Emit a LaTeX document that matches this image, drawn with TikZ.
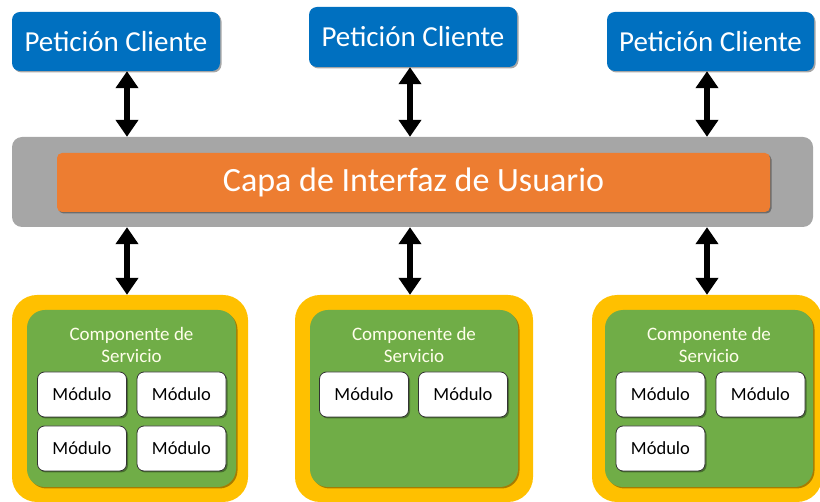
\documentclass[tikz,border=0pt]{standalone}
\usepackage{fontspec}
\setmainfont{Carlito}
\usetikzlibrary{arrows.meta,shadows}
\definecolor{cblue}{HTML}{0070C0}
\definecolor{cgray}{HTML}{A6A6A6}
\definecolor{corange}{HTML}{ED7D31}
\definecolor{cyellow}{HTML}{FFC000}
\definecolor{cgreen}{HTML}{70AD47}
\tikzset{
  shad/.style={drop shadow={shadow xshift=1.5pt,shadow yshift=-1.5pt,opacity=0.35,fill=black}},
  reqbox/.style={shad,fill=cblue,rounded corners=8pt,inner sep=0,text=white,font=\fontsize{29}{32}\selectfont},
  layerbox/.style={fill=cgray,rounded corners=10pt,inner sep=0},
  uibox/.style={shad,fill=corange,rounded corners=5pt,inner sep=0,text=white,font=\fontsize{34}{38}\selectfont},
  outerbox/.style={fill=cyellow,rounded corners=25pt,inner sep=0},
  innerbox/.style={shad,fill=cgreen,rounded corners=18pt,inner sep=0},
  comptext/.style={text=white!92!yellow,align=center,font=\fontsize{19}{22}\selectfont},
  modbox/.style={shad,fill=white,draw=black!80,line width=0.8pt,rounded corners=7pt,inner sep=0,minimum width=89pt,minimum height=45pt,font=\fontsize{18.5}{21}\selectfont},
  dblarrow/.style={line width=6.5pt,{Triangle[width=22pt,length=17pt]}-{Triangle[width=22pt,length=17pt]}},
}
\begin{document}
\begin{tikzpicture}[x=1pt,y=-1pt]
\useasboundingbox (0,0) rectangle (820,502);
% top request boxes
\node[reqbox,minimum width=208pt,minimum height=59pt] (b1) at (116,41.5) {Petición Cliente};
\node[reqbox,minimum width=208pt,minimum height=60pt] (b2) at (413,37) {Petición Cliente};
\node[reqbox,minimum width=207pt,minimum height=59pt] (b3) at (710.5,41.5) {Petición Cliente};
% UI layer
\node[layerbox,minimum width=801pt,minimum height=90pt] (gray) at (412.5,182) {};
\node[uibox,minimum width=713pt,minimum height=59pt] (ui) at (413.5,182.5) {Capa de Interfaz de Usuario};
% components
\node[outerbox,minimum width=236pt,minimum height=207pt] (o1) at (130,398.5) {};
\node[innerbox,minimum width=209pt,minimum height=177pt] (g1) at (131.5,398.5) {};
\node[outerbox,minimum width=238pt,minimum height=207pt] (o2) at (414,398.5) {};
\node[innerbox,minimum width=208pt,minimum height=177pt] (g2) at (414,398.5) {};
\node[outerbox,minimum width=230pt,minimum height=207pt] (o3) at (707,398.5) {};
\node[innerbox,minimum width=208pt,minimum height=177pt] (g3) at (709,398.5) {};
\node[comptext] (t1) at (131.5,345) {Componente de\\Servicio};
\node[comptext] (t2) at (414,345) {Componente de\\Servicio};
\node[comptext] (t3) at (709,345) {Componente de\\Servicio};
% modules
\node[modbox] (m11) at (82,394.5) {Módulo};
\node[modbox] (m12) at (181.5,394.5) {Módulo};
\node[modbox] (m13) at (82,448.5) {Módulo};
\node[modbox] (m14) at (181.5,448.5) {Módulo};
\node[modbox] (m21) at (364,394.5) {Módulo};
\node[modbox] (m22) at (463,394.5) {Módulo};
\node[modbox] (m31) at (660.5,394.5) {Módulo};
\node[modbox] (m32) at (760.5,394.5) {Módulo};
\node[modbox] (m33) at (660.5,448.5) {Módulo};
% arrows
\coordinate (x1) at (127,0);
\coordinate (x2) at (410,0);
\coordinate (x3) at (707,0);
\draw[dblarrow] (b1.south -| x1) -- (gray.north -| x1);
\draw[dblarrow] (b2.south -| x2) -- (gray.north -| x2);
\draw[dblarrow] (b3.south -| x3) -- (gray.north -| x3);
\draw[dblarrow] (gray.south -| x1) -- (o1.north -| x1);
\draw[dblarrow] (gray.south -| x2) -- (o2.north -| x2);
\draw[dblarrow] (gray.south -| x3) -- (o3.north -| x3);
\end{tikzpicture}
\end{document}
